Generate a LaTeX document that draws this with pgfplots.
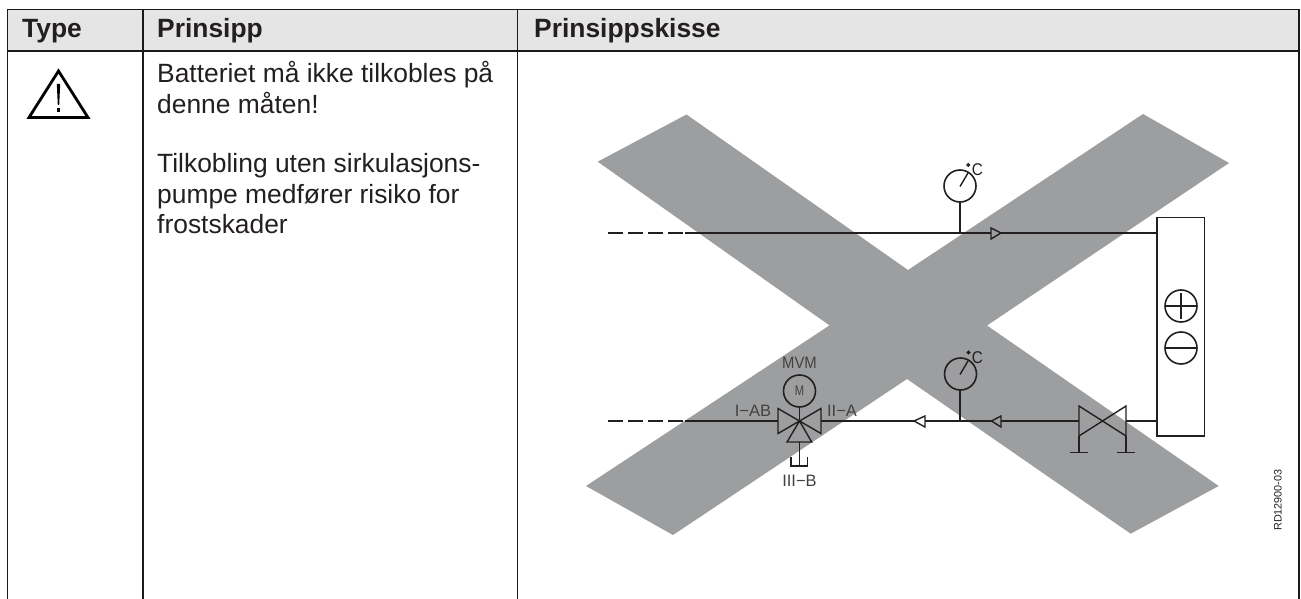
\documentclass[border=0pt]{standalone}
\usepackage{pgfplots}
\usepackage{fontspec}
\pgfplotsset{compat=1.18}
\setmainfont{Liberation Sans}
\definecolor{xgray}{HTML}{9D9E9F}
\definecolor{ink}{HTML}{231F20}
\definecolor{headfill}{HTML}{E5E5E5}
\definecolor{rule}{HTML}{1A1A1A}
\tikzset{
  pipe/.style={draw=ink,line width=1.4pt,line join=miter},
  rul/.style={draw=rule,line width=1.9pt},
  lab/.style={inner sep=0pt,text=ink},
  thin lab/.style={inner sep=0pt,text=ink!85},
  ring/.style={only marks,mark=o,mark size=16pt,mark options={draw=ink,line width=1.6pt,solid}},
}
\newcommand{\fs}[1]{\fontsize{#1}{#1}\selectfont}
\begin{document}
\begin{tikzpicture}
\begin{axis}[
  scale only axis,width=1301pt,height=599pt,
  xmin=0,xmax=1301,ymin=0,ymax=599,y dir=reverse,
  axis lines=none,xtick=\empty,ytick=\empty,clip=true]
% header
\addplot[fill=headfill,draw=none] coordinates {(7.5,9.5)(1299,9.5)(1299,51)(7.5,51)} --cycle;
% big X
\addplot[fill=xgray,draw=none] coordinates {(686.5,114.5)(908,270)(1143,114)(1229,163)(987,325.5)(1218.7,486)(1130.7,533.7)(907,379)(673,535)(586,486)(829.5,325.4)(597.7,161.7)} --cycle;
% table rules
\addplot[rul] coordinates {(7.5,9.5)(1299,9.5)};
\addplot[rul] coordinates {(7.5,51)(1299,51)};
\addplot[rul] coordinates {(7.5,9.5)(7.5,599)};
\addplot[rul] coordinates {(143,9.5)(143,599)};
\addplot[rul] coordinates {(517.5,9.5)(517.5,599)};
\addplot[rul] coordinates {(1299,9.5)(1299,599)};
% warning triangle
\addplot[draw=black,line width=2.8pt,line join=miter,fill=none] coordinates {(58.5,71)(88,117.5)(29,117.5)} --cycle;
\addplot[fill=black,draw=none] coordinates {(56.8,84)(60.2,84)(59.2,105)(57.8,105)} --cycle;
\addplot[fill=black,draw=none] coordinates {(57,108.5)(60,108.5)(60,112)(57,112)} --cycle;
% pipes
\addplot[pipe,dash pattern=on 15pt off 5pt] coordinates {(608,233)(685,233)};
\addplot[pipe] coordinates {(685,233)(1157,233)};
\addplot[pipe,dash pattern=on 15pt off 5pt] coordinates {(608,421)(685,421)};
\addplot[pipe] coordinates {(685,421)(778,421)};
\addplot[pipe] coordinates {(821,421)(1079,421)};
\addplot[pipe] coordinates {(1126,421)(1157,421)};
% arrows
\addplot[pipe,fill=xgray] coordinates {(991,228)(1001,233)(991,239)} --cycle;
\addplot[pipe,fill=xgray] coordinates {(1001,416)(991.5,421)(1001,427)} --cycle;
\addplot[pipe,fill=white] coordinates {(925,416)(914,421)(925,427)} --cycle;
% top gauge
\addplot[ring] coordinates {(960,186)};
\addplot[pipe] coordinates {(960,202)(960,233)};
\addplot[pipe] coordinates {(960,186.5)(968,173)};
\addplot[only marks,mark=*,mark size=1.8pt,mark options={draw=ink,fill=ink}] coordinates {(968.3,165)};
% bottom gauge
\addplot[ring] coordinates {(960.5,374)};
\addplot[pipe] coordinates {(960,390)(960,421)};
\addplot[pipe] coordinates {(960,374.5)(968,361)};
\addplot[only marks,mark=*,mark size=1.8pt,mark options={draw=ink,fill=ink}] coordinates {(968.5,352.5)};
% mixing valve
\addplot[pipe] coordinates {(778,408.5)(821,433.5)(821,408.5)(778,433.5)} --cycle;
\addplot[pipe] coordinates {(799.5,421)(811.7,442)(787,442)} --cycle;
\addplot[pipe] coordinates {(799.5,442)(799.5,466)};
\addplot[pipe] coordinates {(791,457)(791,466)(807.7,466)(807.7,457)};
\addplot[ring] coordinates {(799.5,391)};
\addplot[pipe] coordinates {(799.5,407)(799.5,421)};
% gate valve
\addplot[pipe] coordinates {(1079,406)(1126,436)(1126,406)(1079,436)} --cycle;
\addplot[pipe] coordinates {(1079,436)(1079,452.7)};
\addplot[pipe] coordinates {(1126,436)(1126,452.7)};
\addplot[pipe] coordinates {(1070.3,452.7)(1088,452.7)};
\addplot[pipe] coordinates {(1117,452.7)(1134.7,452.7)};
% coil
\addplot[pipe,fill=white] coordinates {(1157,217.7)(1204.3,217.7)(1204.3,436)(1157,436)} --cycle;
\addplot[ring] coordinates {(1181,306)};
\addplot[ring] coordinates {(1181,348)};
\addplot[pipe] coordinates {(1165,306)(1197,306)};
\addplot[pipe] coordinates {(1181,293)(1181,319)};
\addplot[pipe] coordinates {(1165,348)(1197,348)};
% table text
\node[lab,anchor=base west,font=\fs{26.4}\bfseries] at (axis cs:22,38) {Type};
\node[lab,anchor=base west,font=\fs{26.4}\bfseries] at (axis cs:157,38) {Prinsipp};
\node[lab,anchor=base west,font=\fs{26.4}\bfseries] at (axis cs:534,38) {Prinsippskisse};
\node[lab,anchor=base west,font=\fs{26.4}] at (axis cs:157,83) {Batteriet må ikke tilkobles på};
\node[lab,anchor=base west,font=\fs{26.4}] at (axis cs:157,114) {denne måten!};
\node[lab,anchor=base west,font=\fs{26.4}] at (axis cs:157,172) {Tilkobling uten sirkulasjons-};
\node[lab,anchor=base west,font=\fs{26.4}] at (axis cs:157,203) {pumpe medfører risiko for};
\node[lab,anchor=base west,font=\fs{26.4}] at (axis cs:157,233) {frostskader};
% diagram labels
\node[lab,xscale=0.9,font=\fs{17}] at (axis cs:977.5,170) {C};
\node[lab,xscale=0.9,font=\fs{17}] at (axis cs:977.5,358) {C};
\node[thin lab,xscale=0.9,font=\fs{16.5}] at (axis cs:799.5,362.7) {MVM};
\node[thin lab,xscale=0.8,font=\fs{14}] at (axis cs:799.5,391) {M};
\node[thin lab,font=\fs{16.5}] at (axis cs:753,411) {I−AB};
\node[thin lab,font=\fs{16.5}] at (axis cs:842,411) {II−A};
\node[thin lab,font=\fs{16.5}] at (axis cs:799.5,480.7) {III−B};
\node[lab,rotate=90,font=\fs{10.8}] at (axis cs:1278,500) {RD12900-03};
\end{axis}
\path (0,0) rectangle (1301pt,599pt);
\end{tikzpicture}
\end{document}
